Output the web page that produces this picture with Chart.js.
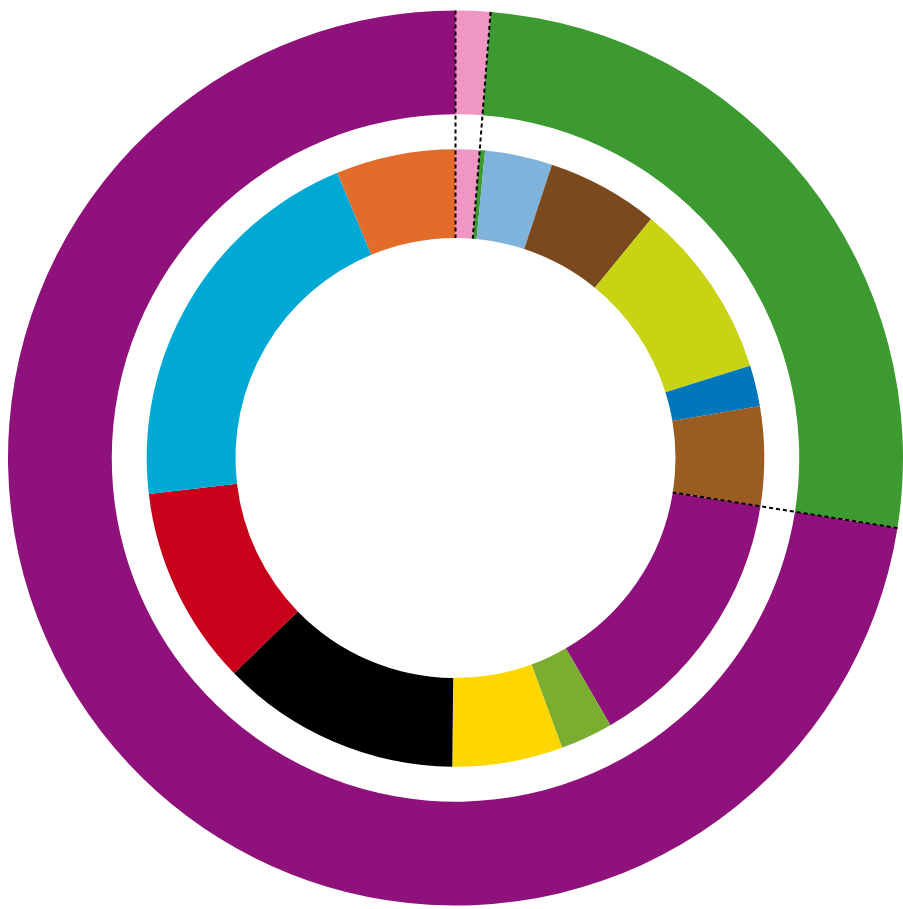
<!DOCTYPE html>
<html><head><meta charset="utf-8">
<script src="https://cdn.jsdelivr.net/npm/chart.js@4/dist/chart.umd.min.js"></script>
<style>html,body{margin:0;padding:0;background:#fff}</style>
</head><body>
<canvas id="c" width="903" height="909"></canvas>
<script>
const outerLabels = ["Pink", "Green", "Purple"];
const outerValues = [4.5, 94.5, 261];
const outerColors = ["#ef97c2", "#3d9a30", "#8f117b"];
const innerLabels = ["Pink","Green","Light blue","Brown","Lime","Blue","Ochre","Purple","Olive","Yellow","Black","Red","Cyan","Orange"];
const innerValues = [4.5, 1.0, 12.7, 21.1, 33.3, 7.7, 18.7, 50.9, 9.9, 20.8, 45.2, 37.5, 74.2, 22.5];
const innerColors = ["#ef97c2","#3d9a30","#7fb3dc","#7a491d","#c8d314","#0077bb","#9b5c22","#8f117b","#7aad30","#ffd700","#000000","#c8001a","#00a9d4","#e36c2a"];

const dashPlugin = {
  id: 'dash',
  afterDatasetsDraw(chart) {
    const ctx = chart.ctx;
    const o = chart.getDatasetMeta(0).data;
    const inn = chart.getDatasetMeta(2).data;
    const cx = o[0].x, cy = o[0].y;
    const r1 = o[0].outerRadius, r0 = inn[0].innerRadius;
    const angles = [o[0].startAngle, o[1].startAngle, o[2].startAngle];
    ctx.save();
    ctx.strokeStyle = '#000'; ctx.lineWidth = 2; ctx.setLineDash([4, 3]);
    angles.forEach(a => {
      ctx.beginPath();
      ctx.moveTo(cx + Math.cos(a) * r1, cy + Math.sin(a) * r1);
      ctx.lineTo(cx + Math.cos(a) * r0, cy + Math.sin(a) * r0);
      ctx.stroke();
    });
    ctx.restore();
  }
};

new Chart(document.getElementById('c'), {
  type: 'doughnut',
  data: {
    labels: innerLabels,
    datasets: [
      { data: outerValues, backgroundColor: outerColors, borderWidth: 0, weight: 104 },
      { data: [1], backgroundColor: ['rgba(0,0,0,0)'], borderWidth: 0, weight: 35 },
      { data: innerValues, backgroundColor: innerColors, borderWidth: 0, weight: 89 }
    ]
  },
  options: {
    responsive: false, animation: false, cutout: 220,
    layout: { padding: { left: 8, top: 7 } },
    plugins: { legend: { display: false }, tooltip: { enabled: false } },
    events: []
  },
  plugins: [dashPlugin]
});
</script>
</body></html>
